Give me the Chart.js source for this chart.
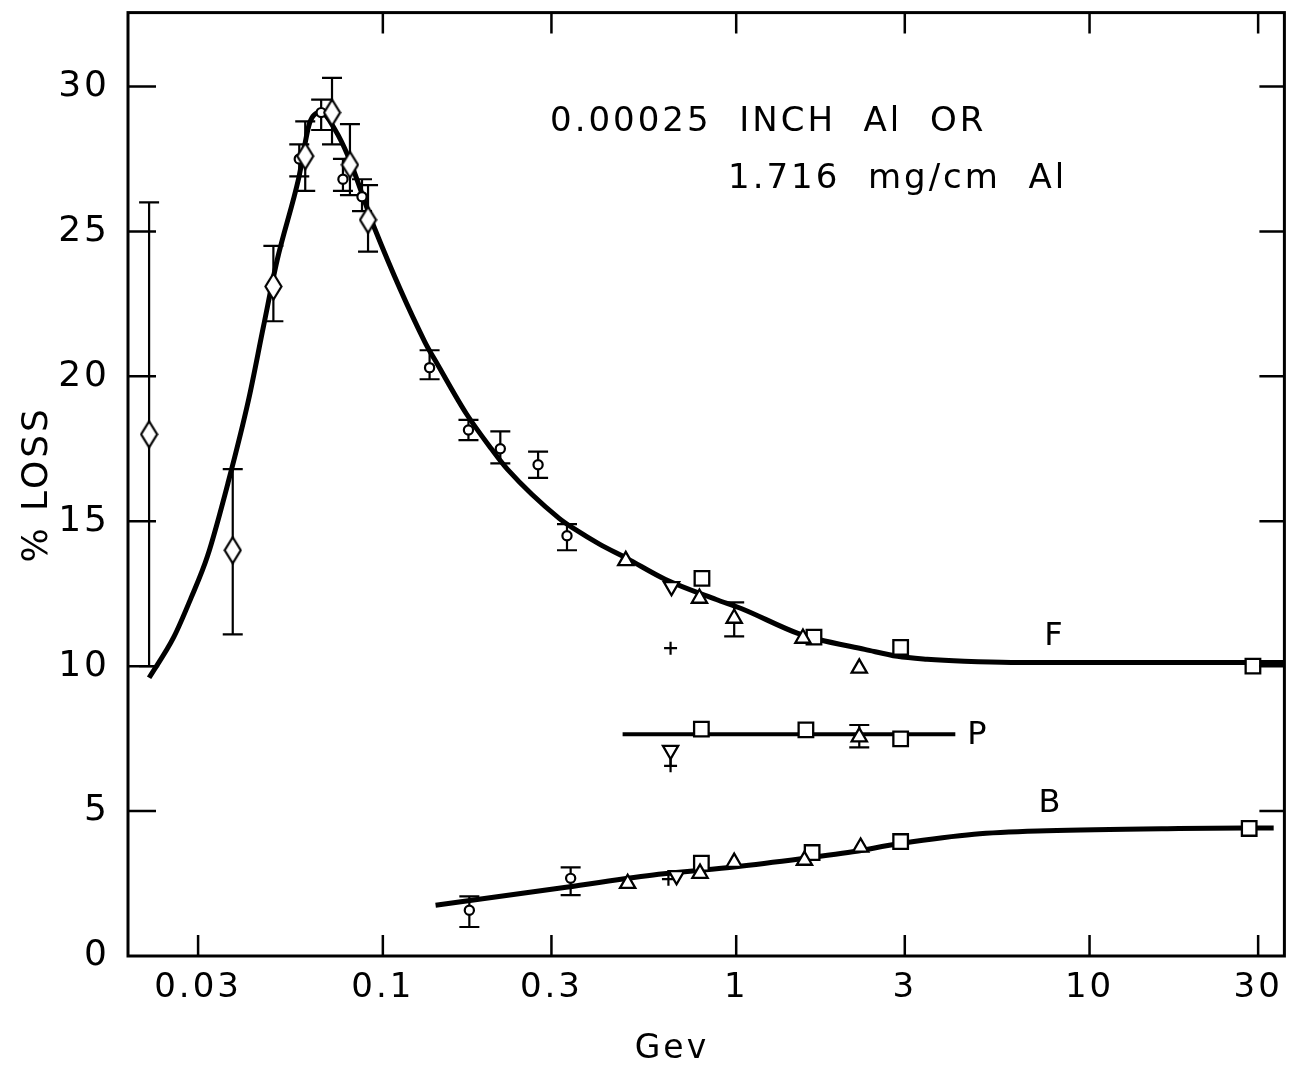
<!DOCTYPE html>
<html>
<head>
<meta charset="utf-8">
<title>% LOSS vs Gev</title>
<script src="https://cdn.jsdelivr.net/npm/chart.js@4.4.1/dist/chart.umd.min.js"></script>
<style>
  html, body { margin: 0; padding: 0; background: #fff; }
</style>
</head>
<body>
<canvas id="lossChart" width="1297" height="1066"></canvas>
<script>
// axis ticks
var xTicks = [0.03, 0.1, 0.3, 1, 3, 10, 30];
var yTicks = [0, 5, 10, 15, 20, 25, 30];

// diamonds (with error bars)
var diamondX  = [0.0218, 0.0376, 0.049, 0.0603, 0.0718, 0.0807, 0.0908];
var diamondY  = [18.0, 14.0, 23.1, 27.6, 29.1, 27.3, 25.4];
var diamondLo = [10.0, 11.1, 21.9, 26.4, 28.0, 26.25, 24.3];
var diamondHi = [26.0, 16.8, 24.5, 28.8, 30.3, 28.7, 26.6];

// open circles (with error bars)
var circleX  = [0.058, 0.0669, 0.0771, 0.0873, 0.1356, 0.1747, 0.215, 0.275, 0.332, 0.1757, 0.340];
var circleY  = [27.5, 29.1, 26.8, 26.2, 20.3, 18.15, 17.5, 16.95, 14.5, 1.58, 2.68];
var circleLo = [26.9, 28.5, 26.4, 25.7, 19.9, 17.8, 17.0, 16.5, 14.0, 1.0, 2.1];
var circleHi = [28.0, 29.55, 27.5, 26.8, 20.9, 18.5, 18.1, 17.4, 14.9, 2.06, 3.06];

// triangles
var triUpX  = [0.487, 0.787, 0.987, 1.545, 2.23, 2.23, 0.493, 0.79, 0.987, 1.56, 2.25];
var triUpY  = [13.64, 12.34, 11.65, 10.96, 9.93, 7.56, 2.5, 2.85, 3.23, 3.3, 3.75];
var triUpLo = [null, null, 11.03, null, null, 7.2, null, null, null, null, null];
var triUpHi = [null, null, 12.2, null, null, 7.97, null, null, null, null, null];

var triDownX  = [0.656, 0.652, 0.678];
var triDownY  = [12.75, 7.1, 2.78];
var triDownLo = [null, 6.56, null];
var triDownHi = [null, 7.1, null];

// squares
var squareX = [0.80, 1.66, 2.92, 29.0, 0.797, 1.575, 2.92, 0.797, 1.64, 2.92, 28.3];
var squareY = [13.03, 11.0, 10.65, 10.0, 7.83, 7.8, 7.49, 3.2, 3.57, 3.95, 4.4];

// crosses
var plusX = [0.652, 0.652, 0.643];
var plusY = [10.62, 6.56, 2.65];

// fitted curves
var fCurveX = [0.0218, 0.0256, 0.0286, 0.0319, 0.0366, 0.0417, 0.0459, 0.0502, 0.0577, 0.0623, 0.0669,
               0.0733, 0.0797, 0.0948, 0.1313, 0.143, 0.1725, 0.2028, 0.225, 0.3155, 0.352, 0.409,
               0.49, 0.631, 0.878, 1.033, 1.495, 1.70, 2.31, 2.86, 3.47, 4.42, 6.0, 35.5];
var fCurveY = [9.6, 11.0, 12.33, 13.8, 16.4, 19.2, 21.7, 24.0, 26.8, 28.8, 29.1,
               28.5, 27.6, 25.1, 21.2, 20.4, 18.7, 17.5, 16.8, 15.1, 14.7, 14.22,
               13.72, 12.99, 12.3, 11.99, 11.13, 10.93, 10.58, 10.34, 10.24, 10.17, 10.13, 10.13];
var pCurveX = [0.477, 4.17];
var pCurveY = [7.65, 7.65];
var bCurveX = [0.141, 0.330, 0.603, 1.0, 1.63, 2.07, 2.92, 4.71, 7.57, 17.9, 33.2];
var bCurveY = [1.75, 2.37, 2.82, 3.08, 3.4, 3.57, 3.88, 4.2, 4.32, 4.4, 4.42];

var curveNames = ['F', 'P', 'B'];
var curveNameX = [7.9, 4.8, 7.7];
var curveNameY = [11.0, 7.6, 5.26];

function pts(xs, ys) {
  return xs.map(function (x, i) { return { x: x, y: ys[i] }; });
}

// tall open diamond
var diamond = document.createElement('canvas');
diamond.width = 19; diamond.height = 29;
(function () {
  var d = diamond.getContext('2d');
  d.fillStyle = '#fff'; d.strokeStyle = '#000'; d.lineWidth = 2.2;
  d.beginPath();
  d.moveTo(9.5, 1.5); d.lineTo(17.5, 14.5); d.lineTo(9.5, 27.5); d.lineTo(1.5, 14.5); d.closePath();
  d.fill(); d.stroke();
})();

var FONT = '"DejaVu Sans", sans-serif';

var framePlugin = {
  id: 'framePlugin',
  beforeDraw: function (chart) {
    var c = chart.ctx;
    c.save();
    c.fillStyle = '#fff';
    c.fillRect(0, 0, chart.width, chart.height);
    c.restore();
    c.letterSpacing = '3px';
  },
  beforeDatasetsDraw: function (chart) {
    var xs = chart.scales.x, ys = chart.scales.y, c = chart.ctx;
    c.save();
    c.strokeStyle = '#000';
    c.lineWidth = 2.2;
    chart.data.datasets.forEach(function (ds) {
      if (!ds.errLo) return;
      ds.data.forEach(function (p, i) {
        if (ds.errLo[i] == null) return;
        var px = xs.getPixelForValue(p.x);
        var lo = ys.getPixelForValue(ds.errLo[i]);
        var hi = ys.getPixelForValue(ds.errHi[i]);
        c.beginPath();
        c.moveTo(px, lo); c.lineTo(px, hi);
        if (ds.cap) {
          c.moveTo(px - ds.cap, lo); c.lineTo(px + ds.cap, lo);
          c.moveTo(px - ds.cap, hi); c.lineTo(px + ds.cap, hi);
        }
        c.stroke();
      });
    });
    c.restore();
  },
  afterDraw: function (chart) {
    var xs = chart.scales.x, ys = chart.scales.y, c = chart.ctx, a = chart.chartArea;
    c.save();
    c.strokeStyle = '#000';
    c.lineWidth = 3;
    c.strokeRect(a.left, a.top, a.right - a.left, a.bottom - a.top);

    // inward ticks
    c.lineWidth = 2.5;
    c.beginPath();
    xTicks.forEach(function (v) {
      var px = xs.getPixelForValue(v);
      c.moveTo(px, a.bottom); c.lineTo(px, a.bottom - 21);
      if (v > 0.05) { c.moveTo(px, a.top); c.lineTo(px, a.top + 21); }
    });
    yTicks.forEach(function (v) {
      if (v === 0) return;
      var py = ys.getPixelForValue(v);
      c.moveTo(a.left, py); c.lineTo(a.left + 28, py);
      c.moveTo(a.right, py); c.lineTo(a.right - 25, py);
    });
    c.stroke();

    // text
    c.fillStyle = '#000';
    c.font = '34px ' + FONT;
    c.letterSpacing = '3px';
    c.textAlign = 'left';
    c.textBaseline = 'alphabetic';
    c.fillText('0.00025  INCH  Al  OR', 550, 131);
    c.fillText('1.716  mg/cm  Al', 728, 188);

    // x axis title
    c.font = '33px ' + FONT;
    c.textAlign = 'center';
    c.textBaseline = 'middle';
    c.fillText('Gev', 672, 1049);

    c.font = '32px ' + FONT;
    c.letterSpacing = '0px';
    curveNames.forEach(function (t, i) {
      c.fillText(t, xs.getPixelForValue(curveNameX[i]), ys.getPixelForValue(curveNameY[i]));
    });
    c.restore();
  }
};

var marker = { showLine: false, borderColor: '#000', backgroundColor: '#fff', order: 1 };

new Chart(document.getElementById('lossChart'), {
  type: 'scatter',
  data: {
    datasets: [
      Object.assign({}, marker, { data: pts(diamondX, diamondY), pointStyle: diamond,
        errLo: diamondLo, errHi: diamondHi, cap: 10 }),
      Object.assign({}, marker, { data: pts(circleX, circleY), pointStyle: 'circle', pointRadius: 4.6,
        borderWidth: 2.2, errLo: circleLo, errHi: circleHi, cap: 10 }),
      Object.assign({}, marker, { data: pts(triUpX, triUpY), pointStyle: 'triangle', pointRadius: 8.8,
        borderWidth: 2.3, errLo: triUpLo, errHi: triUpHi, cap: 10 }),
      Object.assign({}, marker, { data: pts(triDownX, triDownY), pointStyle: 'triangle', rotation: 180,
        pointRadius: 8.8, borderWidth: 2.3, errLo: triDownLo, errHi: triDownHi, cap: 0 }),
      Object.assign({}, marker, { data: pts(squareX, squareY), pointStyle: 'rect', pointRadius: 10.3,
        borderWidth: 2.3 }),
      Object.assign({}, marker, { data: pts(plusX, plusY), pointStyle: 'cross', pointRadius: 6.5,
        borderWidth: 2.2 }),
      { data: pts(fCurveX, fCurveY), showLine: true, pointRadius: 0, borderColor: '#000',
        borderWidth: 5, cubicInterpolationMode: 'monotone', order: 3 },
      { data: pts(pCurveX, pCurveY), showLine: true, pointRadius: 0, borderColor: '#000',
        borderWidth: 4, order: 3 },
      { data: pts(bCurveX, bCurveY), showLine: true, pointRadius: 0, borderColor: '#000',
        borderWidth: 5, cubicInterpolationMode: 'monotone', order: 3 }
    ]
  },
  options: {
    responsive: false,
    animation: false,
    devicePixelRatio: 1,
    layout: { padding: { left: 16, right: 8, top: 9, bottom: 0 } },
    plugins: { legend: { display: false }, tooltip: { enabled: false } },
    scales: {
      x: {
        type: 'logarithmic',
        min: 0.019,
        max: 35.6,
        grid: { display: false, drawTicks: false },
        border: { display: false },
        afterBuildTicks: function (s) { s.ticks = xTicks.map(function (v) { return { value: v }; }); },
        afterFit: function (s) { s.height = 110; s.paddingLeft = 0; s.paddingRight = 0; },
        ticks: {
          color: '#000',
          padding: 12,
          maxRotation: 0,
          autoSkip: false,
          font: { family: FONT, size: 34 },
          callback: function (v) { return String(v); }
        },
        title: { display: false }
      },
      y: {
        min: 0,
        max: 32.55,
        grid: { display: false, drawTicks: false },
        border: { display: false },
        afterBuildTicks: function (s) { s.ticks = yTicks.map(function (v) { return { value: v }; }); },
        afterFit: function (s) { s.width = 112; s.paddingTop = 0; s.paddingBottom = 0; },
        ticks: {
          color: '#000',
          padding: 18,
          font: { family: FONT, size: 36 }
        },
        title: {
          display: true,
          text: '% LOSS',
          color: '#000',
          padding: 0,
          font: { family: FONT, size: 36 }
        }
      }
    }
  },
  plugins: [framePlugin]
});
</script>
</body>
</html>
